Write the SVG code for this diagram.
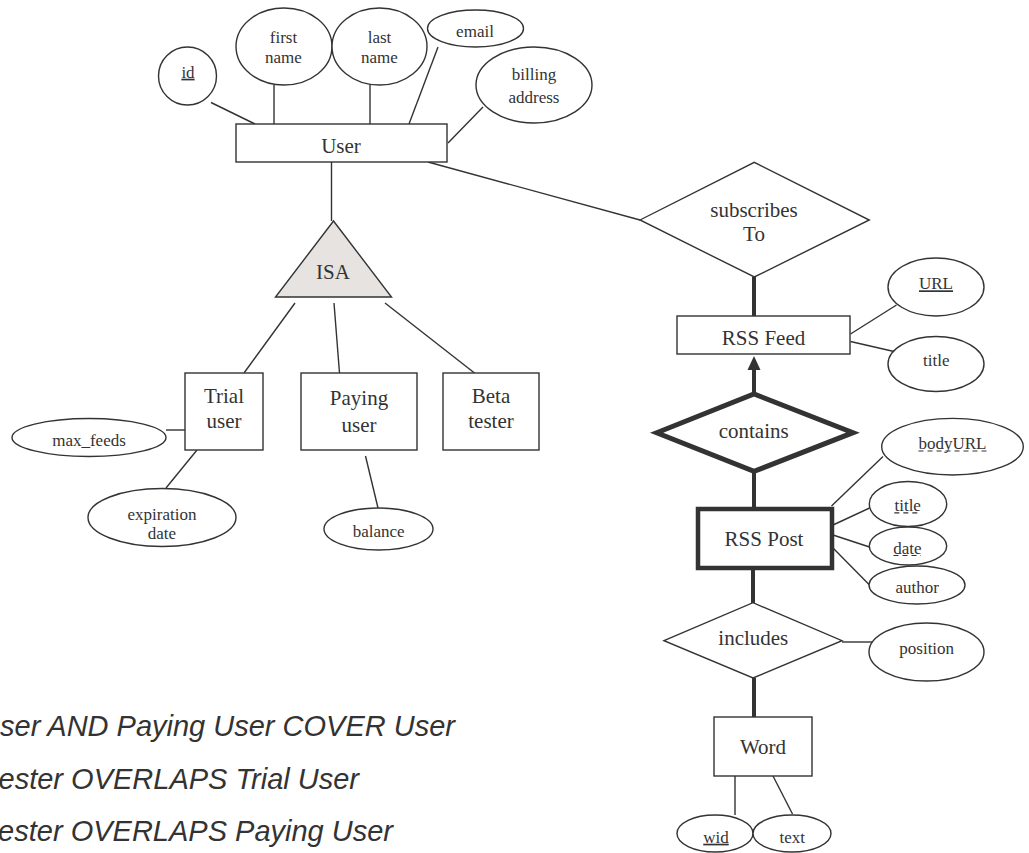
<svg xmlns="http://www.w3.org/2000/svg" width="1029" height="853" viewBox="0 0 1029 853">
<defs>
<style>
.s{fill:#fff;stroke:#333;stroke-width:1.4}
.t{font-family:"Liberation Serif","Times New Roman",serif;fill:#333;text-anchor:middle}
.e{font-size:21px}
.a{font-size:17px}
.c line,.c polyline{stroke:#333;stroke-width:1.4;fill:none}
.c .k{stroke-width:4}
.n{font-family:"Liberation Sans",Arial,sans-serif;font-style:italic;font-size:29px;fill:#333;text-anchor:end}
.d{stroke:#333;stroke-width:1.2;stroke-dasharray:5 4}
</style>
</defs>
<rect width="1029" height="853" fill="#fff"/>
<g id="connectors" class="c">
<line x1="211" y1="102.5" x2="255" y2="124"/>
<line x1="274" y1="85" x2="274" y2="124"/>
<line x1="370" y1="85" x2="370" y2="124"/>
<line x1="438" y1="47" x2="409" y2="124"/>
<line x1="483" y1="107" x2="448" y2="143"/>
<line x1="331.5" y1="162" x2="331.5" y2="221"/>
<line x1="428" y1="162" x2="640" y2="220"/>
<line x1="295" y1="303" x2="244" y2="373"/>
<line x1="334" y1="303" x2="339.5" y2="373"/>
<line x1="385" y1="303" x2="474.5" y2="373"/>
<line x1="166" y1="430" x2="185" y2="430"/>
<line x1="197" y1="450" x2="166" y2="488"/>
<line x1="365.5" y1="456" x2="378" y2="508"/>
<line class="k" x1="754" y1="277" x2="754" y2="316"/>
<line x1="850.5" y1="334" x2="896.5" y2="305"/>
<line x1="850.5" y1="341.5" x2="894" y2="351.5"/>
<line class="k" x1="754" y1="394" x2="754" y2="368"/>
<polygon points="754,356 747.5,370 760.5,370" fill="#333" stroke="none"/>
<line class="k" x1="754" y1="471" x2="754" y2="509"/>
<line x1="831.5" y1="506" x2="883" y2="456.5"/>
<line x1="833" y1="525" x2="869.5" y2="508"/>
<line x1="833" y1="535" x2="869.5" y2="547"/>
<line x1="833" y1="548" x2="869.5" y2="585"/>
<line class="k" x1="753" y1="568" x2="753" y2="603"/>
<line x1="842" y1="642" x2="872" y2="642"/>
<line class="k" x1="754" y1="678" x2="754" y2="717"/>
<line x1="735" y1="776" x2="735" y2="815"/>
<line x1="773" y1="776" x2="792.5" y2="814"/>
</g>
<g id="user"><rect class="s" x="236" y="124" width="211" height="38"/><text class="t e" x="341" y="153.3">User</text></g>
<g id="attr-id"><ellipse class="s" cx="187.5" cy="76" rx="29" ry="29"/><text class="t a" x="188" y="77.7" text-decoration="underline">id</text></g>
<g id="attr-firstname"><ellipse class="s" cx="284" cy="46.5" rx="48" ry="38.5"/><text class="t a" x="283.5" y="43.3">first</text><text class="t a" x="283.5" y="63.3">name</text></g>
<g id="attr-lastname"><ellipse class="s" cx="379.5" cy="46.5" rx="47.5" ry="38.5"/><text class="t a" x="379.5" y="43.3">last</text><text class="t a" x="379.5" y="63.3">name</text></g>
<g id="attr-email"><ellipse class="s" cx="475.5" cy="28.5" rx="48" ry="18.5"/><text class="t a" x="475" y="36.7">email</text></g>
<g id="attr-billing"><ellipse class="s" cx="534" cy="85" rx="58" ry="38"/><text class="t a" x="534" y="80">billing</text><text class="t a" x="534" y="102.7">address</text></g>
<g id="isa"><polygon points="333.5,221 275.5,297 391.5,297" fill="#e6e3e0" stroke="#333" stroke-width="1.4"/><text class="t e" x="333" y="279">ISA</text></g>
<g id="trial"><rect class="s" x="185" y="373" width="78" height="77"/><text class="t e" x="224" y="402.7">Trial</text><text class="t e" x="224" y="427.7">user</text></g>
<g id="paying"><rect class="s" x="301" y="373" width="116" height="77"/><text class="t e" x="359" y="405">Paying</text><text class="t e" x="359" y="431.7">user</text></g>
<g id="beta"><rect class="s" x="443" y="373" width="96" height="77"/><text class="t e" x="491" y="402.7">Beta</text><text class="t e" x="491" y="427.7">tester</text></g>
<g id="attr-maxfeeds"><ellipse class="s" cx="89" cy="437.5" rx="77" ry="19"/><text class="t a" x="89" y="446.3">max_feeds</text></g>
<g id="attr-expiration"><ellipse class="s" cx="162" cy="517.5" rx="74" ry="29"/><text class="t a" x="162" y="520">expiration</text><text class="t a" x="162" y="539.3">date</text></g>
<g id="attr-balance"><ellipse class="s" cx="378.5" cy="529" rx="54.5" ry="21"/><text class="t a" x="378.7" y="536.7">balance</text></g>
<g id="subscribes"><polygon class="s" points="640,220 754.3,162.3 869.3,220 754.3,277"/><text class="t e" x="754" y="216.5">subscribes</text><text class="t e" x="754" y="241">To</text></g>
<g id="rssfeed"><rect class="s" x="677" y="316" width="173" height="38"/><text class="t e" x="763.5" y="345">RSS Feed</text></g>
<g id="attr-url"><ellipse class="s" cx="936" cy="287" rx="48" ry="29"/><text class="t a" x="936" y="289.3" text-decoration="underline">URL</text></g>
<g id="attr-feedtitle"><ellipse class="s" cx="936" cy="364" rx="48" ry="27.5"/><text class="t a" x="936.3" y="366">title</text></g>
<g id="contains"><polygon points="656.7,432.7 754,394 853,432.7 754,471.4" fill="#fff" stroke="#333" stroke-width="5" stroke-linejoin="miter"/><text class="t e" x="753.7" y="438.3">contains</text></g>
<g id="attr-bodyurl"><ellipse class="s" cx="952.5" cy="446.7" rx="70.8" ry="28.3"/><text class="t a" x="952.5" y="449">bodyURL</text><line class="d" x1="918.5" y1="451" x2="986.5" y2="451"/></g>
<g id="rsspost"><rect x="698" y="509" width="134" height="59" fill="#fff" stroke="#333" stroke-width="4.5"/><text class="t e" x="764" y="546">RSS Post</text></g>
<g id="attr-posttitle"><ellipse class="s" cx="908" cy="504" rx="38.7" ry="22.5"/><text class="t a" x="907.7" y="510.7">title</text><line class="d" x1="894.3" y1="512.8" x2="921" y2="512.8"/></g>
<g id="attr-date"><ellipse class="s" cx="908" cy="546" rx="38.7" ry="19"/><text class="t a" x="907.5" y="554">date</text><line class="d" x1="893.5" y1="555.5" x2="921" y2="555.5"/></g>
<g id="attr-author"><ellipse class="s" cx="917" cy="585" rx="48" ry="19"/><text class="t a" x="917.3" y="593.3">author</text></g>
<g id="includes"><polygon class="s" points="664,640.7 753,602.7 842,640.7 753,678"/><text class="t e" x="753.3" y="645">includes</text></g>
<g id="attr-position"><ellipse class="s" cx="926.5" cy="652" rx="57.5" ry="29"/><text class="t a" x="926.7" y="654.3">position</text></g>
<g id="word"><rect class="s" x="714" y="717" width="98" height="59"/><text class="t e" x="763" y="754.3">Word</text></g>
<g id="attr-wid"><ellipse class="s" cx="715" cy="833.5" rx="38" ry="18.5"/><text class="t a" x="716" y="842.7" text-decoration="underline">wid</text></g>
<g id="attr-text"><ellipse class="s" cx="792" cy="833.5" rx="39" ry="18.5"/><text class="t a" x="792.3" y="842.7">text</text></g>
<g id="notes">
<text class="n" x="455" y="736">ser AND Paying User COVER User</text>
<text class="n" x="359" y="789">ester OVERLAPS Trial User</text>
<text class="n" x="393" y="841">ester OVERLAPS Paying User</text>
</g>
</svg>
